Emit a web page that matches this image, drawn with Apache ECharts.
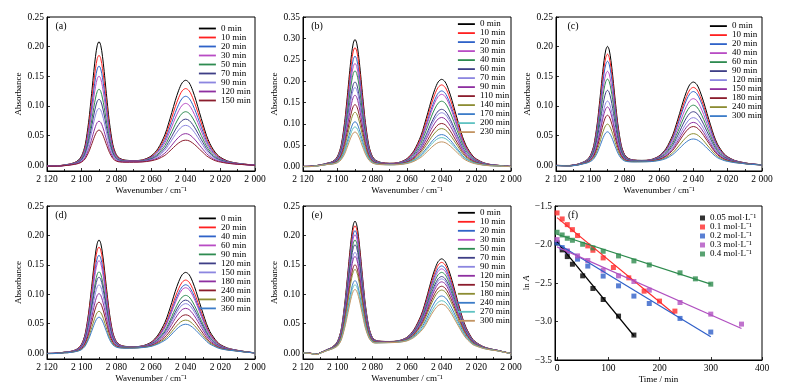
<!DOCTYPE html>
<html><head><meta charset="utf-8">
<script src="https://cdn.jsdelivr.net/npm/echarts@6/dist/echarts.min.js"></script>
<style>html,body{margin:0;padding:0;background:#fff}#c{width:785px;height:390px}</style>
</head><body><div id="c"></div>
<script>
// ---------- DATA ----------
const wavenumbers = [2120,2116,2112,2110,2108,2106,2104,2102,2100,2098,
  2096,2095,2094,2093,2092,2091,2090,2089,2088,2087,2086,2085,2084,
  2082,2080,2078,2075,2070,2065,2060,2056,2052,
  2050,2048,2046,2044,2042,2040,2038,2036,2034,2032,2030,
  2028,2026,2024,2022,2020,
  2016,2012,2008,2004,2000];
// normalized band shapes (2090 band, 2040 band)
const band1 = [0.003,0.004,0.006,0.008,0.01,0.014,0.021,0.035,0.07,0.155,
  0.34,0.47,0.61,0.755,0.88,0.97,1.0,0.97,0.88,0.755,0.61,0.47,0.34,
  0.155,0.07,0.037,0.019,0.009,0.005,0.003,0.002,0.002,
  0.001,0.001,0.001,0.001,0.001,0.001,0.001,0,0,0,0,
  0,0,0,0,0,
  0,0,0,0,0];
const band2 = [0,0,0.001,0.001,0.001,0.001,0.001,0.002,0.002,0.002,
  0.002,0.002,0.002,0.002,0.003,0.003,0.003,0.003,0.003,0.003,0.003,0.003,0.003,
  0.004,0.004,0.005,0.007,0.012,0.026,0.075,0.17,0.34,
  0.47,0.61,0.755,0.88,0.97,1.0,0.97,0.88,0.755,0.61,0.47,
  0.34,0.24,0.17,0.115,0.08,
  0.04,0.022,0.013,0.007,0.004];
// baselines per panel
const baseA = [-0.002,-0.002,-0.002,-0.0015,-0.001,-0.0005,0,0.0005,0.001,0.0015,
  0.002,0.002,0.002,0.002,0.002,0.002,0.002,0.002,0.002,0.002,0.002,0.002,0.002,
  0.002,0.0025,0.003,0.0035,0.004,0.004,0.004,0.0035,0.003,
  0.003,0.003,0.003,0.003,0.003,0.003,0.003,0.003,0.003,0.003,0.003,
  0.0025,0.0025,0.002,0.002,0.002,
  0.0015,0.001,0.0005,0,-0.0005];
const baseB = [0,0,0.001,0.002,0.003,0.004,0.004,0.004,0.004,0.004,
  0.003,0.003,0.003,0.003,0.003,0.003,0.003,0.003,0.003,0.003,0.003,0.003,0.003,
  0.003,0.003,0.003,0.003,0.003,0.003,0.003,0.003,0.003,
  0.003,0.003,0.003,0.003,0.003,0.003,0.003,0.003,0.003,0.003,0.003,
  0.002,0.002,0.002,0.002,0.002,
  0.0015,0.001,0.001,0.0005,0];
const baseC = [-0.001,-0.0015,-0.002,-0.0015,-0.001,0,0.001,0.0015,0.002,0.002,
  0.002,0.002,0.002,0.002,0.002,0.002,0.002,0.002,0.002,0.002,0.002,0.002,0.002,
  0.0025,0.003,0.0035,0.004,0.0045,0.0045,0.0045,0.004,0.004,
  0.004,0.004,0.004,0.004,0.004,0.004,0.004,0.004,0.004,0.004,0.004,
  0.0035,0.003,0.003,0.003,0.003,
  0.0025,0.002,0.001,0.0005,0];
const baseD = [-0.001,-0.001,-0.0005,0,0,0.0005,0.001,0.0015,0.002,0.003,
  0.004,0.004,0.004,0.004,0.004,0.004,0.004,0.004,0.004,0.004,0.004,0.004,0.004,
  0.005,0.006,0.0065,0.007,0.0075,0.008,0.008,0.008,0.007,
  0.006,0.006,0.006,0.006,0.006,0.006,0.006,0.006,0.006,0.006,0.006,
  0.0055,0.005,0.005,0.0045,0.004,
  0.0035,0.003,0.002,0.001,0];
const baseE = [0,-0.001,-0.003,-0.001,0.001,0.003,0.004,0.005,0.005,0.006,
  0.008,0.008,0.008,0.008,0.008,0.008,0.008,0.008,0.008,0.008,0.008,0.008,0.008,
  0.01,0.011,0.013,0.015,0.016,0.016,0.015,0.014,0.012,
  0.01,0.01,0.01,0.01,0.01,0.01,0.01,0.01,0.01,0.01,0.01,
  0.009,0.008,0.007,0.006,0.006,
  0.005,0.004,0.003,0.001,-0.001];

const timesA = [0,10,20,30,50,70,90,120,150];
const peaksA1 = [0.208,0.185,0.167,0.150,0.128,0.111,0.0955,0.074,0.059];
const peaksA2 = [0.143,0.129,0.116,0.104,0.090,0.0775,0.067,0.053,0.042];

const timesB = [0,10,20,30,40,60,70,90,110,140,170,200,230];
const peaksB1 = [0.297,0.278,0.258,0.241,0.224,0.198,0.185,0.167,0.145,0.127,0.105,0.093,0.081];
const peaksB2 = [0.204,0.191,0.177,0.169,0.153,0.134,0.126,0.115,0.101,0.089,0.075,0.068,0.058];

const timesC = [0,10,20,40,60,90,120,150,180,240,300];
const peaksC1 = [0.200,0.187,0.175,0.158,0.145,0.126,0.108,0.098,0.084,0.069,0.056];
const peaksC2 = [0.140,0.131,0.124,0.112,0.101,0.090,0.080,0.072,0.065,0.053,0.044];

const timesD = [0,20,40,60,90,120,150,180,240,300,360];
const peaksD1 = [0.192,0.180,0.166,0.157,0.138,0.129,0.116,0.101,0.0865,0.071,0.061];
const peaksD2 = [0.137,0.124,0.116,0.111,0.098,0.090,0.084,0.076,0.065,0.056,0.049];

const timesE = [0,10,20,30,50,70,90,120,150,180,240,270,300];
const peaksE1 = [0.224,0.216,0.208,0.201,0.192,0.184,0.171,0.164,0.150,0.142,0.123,0.116,0.108];
const peaksE2 = [0.160,0.154,0.148,0.143,0.137,0.130,0.126,0.121,0.1135,0.107,0.097,0.089,0.083];

// panel (f): ln A vs time
const concLabels = ['0.05 mol·L⁻¹','0.1 mol·L⁻¹','0.2 mol·L⁻¹','0.3 mol·L⁻¹','0.4 mol·L⁻¹'];
const kTimes05 = [0,10,20,30,50,70,90,120,150];
const lnA05 = [-1.98,-2.07,-2.157,-2.256,-2.407,-2.571,-2.714,-2.93,-3.176];
const kTimes1 = [0,10,20,30,40,60,70,90,110,140,170,200,230];
const lnA1 = [-1.59,-1.668,-1.742,-1.807,-1.884,-2.018,-2.075,-2.174,-2.299,-2.433,-2.606,-2.735,-2.865];
const kTimes2 = [0,10,20,40,60,90,120,150,180,240,300];
const lnA2 = [-1.98,-2.04,-2.09,-2.19,-2.28,-2.41,-2.537,-2.67,-2.766,-2.96,-3.137];
const kTimes3 = [0,20,40,60,90,120,150,180,240,300,360];
const lnA3 = [-1.936,-2.083,-2.148,-2.208,-2.334,-2.407,-2.48,-2.593,-2.753,-2.904,-3.034];
const kTimes4 = [0,10,20,30,50,70,90,120,150,180,240,270,300];
const lnA4 = [-1.841,-1.876,-1.919,-1.945,-1.997,-2.044,-2.088,-2.148,-2.213,-2.265,-2.368,-2.446,-2.515];
// fitted lines: [t0, lnA0, t1, lnA1]
const fit05 = [0,-1.967,150,-3.185];
const fit1  = [0,-1.651,230,-2.908];
const fit2  = [0,-1.988,300,-3.198];
const fit3  = [0,-2.031,360,-3.09];
const fit4  = [0,-1.867,300,-2.515];

const yTicks25 = [0,0.05,0.10,0.15,0.20,0.25];
const yTicks35 = [0,0.05,0.10,0.15,0.20,0.25,0.30,0.35];
const timeTicks = [0,100,200,300,400];

// ---------- STYLE ----------
const FONT = "'Liberation Serif','Times New Roman',serif";
const palette = ['#000000','#ff2020','#2f62c8','#b84cc4','#2e8b50','#3e3e86','#8c86e0','#8e2fa0','#8b1c2c','#8c8c32','#3c7cc8','#5fc2c2','#c29462'];
const fColors = ['#000000','#ff2a2a','#2f5fc8','#b050c0','#2e8b4e'];

const spectraPanels = [
  {key:'a', times:timesA, p1:peaksA1, p2:peaksA2, base:baseA, ymax:0.25, ticks:yTicks25,
   grid:{left:47,top:17,width:208,height:154}, legend:{left:198,top:24}, label:[61,26], yGap:20.5},
  {key:'b', times:timesB, p1:peaksB1, p2:peaksB2, base:baseB, ymax:0.35, ticks:yTicks35,
   grid:{left:303,top:17,width:208,height:154}, legend:{left:457,top:19.6}, label:[317,26], yGap:23.5},
  {key:'c', times:timesC, p1:peaksC1, p2:peaksC2, base:baseC, ymax:0.25, ticks:yTicks25,
   grid:{left:556,top:17,width:206,height:154}, legend:{left:709,top:21.6}, label:[573,26], yGap:22.5},
  {key:'d', times:timesD, p1:peaksD1, p2:peaksD2, base:baseD, ymax:0.25, ticks:yTicks25,
   grid:{left:47,top:206,width:208,height:153}, legend:{left:198,top:213.9}, label:[61,215], yGap:20.8},
  {key:'e', times:timesE, p1:peaksE1, p2:peaksE2, base:baseE, ymax:0.25, ticks:yTicks25,
   grid:{left:303,top:206,width:208,height:153}, legend:{left:457,top:208.3}, label:[317,215], yGap:23.5}
];

const i2090 = wavenumbers.indexOf(2090), i2040 = wavenumbers.indexOf(2040);
const wnFmt = v => Math.floor(v/1000) + ' ' + String(v%1000).padStart(3,'0');
const txt = {fontFamily:FONT, color:'#000'};

const grids = [], xAxes = [], yAxes = [], series = [], legends = [], graphics = [];

spectraPanels.forEach((p, k) => {
  grids.push(Object.assign({show:true, borderColor:'#000', borderWidth:1, backgroundColor:'transparent'}, p.grid));
  xAxes.push({gridIndex:k, type:'value', min:2000, max:2120, interval:20, inverse:true,
    name:'Wavenumber / cm⁻¹', nameLocation:'middle', nameGap:15.5,
    nameTextStyle:Object.assign({fontSize:9}, txt),
    axisLine:{show:true, onZero:false, lineStyle:{color:'#000', width:1}},
    axisTick:{show:true, inside:true, length:3, lineStyle:{color:'#000', width:0.8}},
    minorTick:{show:true, splitNumber:2, length:2, lineStyle:{color:'#000', width:0.8}},
    axisLabel:Object.assign({fontSize:9.5, margin:3, formatter:wnFmt}, txt),
    splitLine:{show:false}});
  yAxes.push({gridIndex:k, type:'value', min:-0.01, max:p.ymax,
    name:'Absorbance', nameLocation:'middle', nameRotate:90, nameGap:p.yGap,
    nameTextStyle:Object.assign({fontSize:9}, txt),
    axisLine:{show:true, onZero:false, lineStyle:{color:'#000', width:1}},
    axisTick:{show:true, inside:true, length:3, customValues:p.ticks, lineStyle:{color:'#000', width:0.8}},
    axisLabel:Object.assign({fontSize:9.5, margin:3, customValues:p.ticks, formatter:v=>v.toFixed(2)}, txt),
    splitLine:{show:false}});
  const names = [];
  p.times.forEach((t, j) => {
    const name = p.key + '|' + t + ' min';
    names.push(name);
    const a1 = p.p1[j] - p.base[i2090];
    const a2 = p.p2[j] - p.base[i2040];
    const data = wavenumbers.map((w, i) => [w, p.base[i] + a1*band1[i] + a2*band2[i]]);
    series.push({type:'line', name, xAxisIndex:k, yAxisIndex:k, data,
      showSymbol:false, symbol:'none', smooth:0.3,
      lineStyle:{width:1, color:palette[j]}, itemStyle:{color:palette[j]}, silent:true, animation:false});
  });
  legends.push({left:p.legend.left, top:p.legend.top, orient:'vertical', padding:0,
    itemWidth:17, itemHeight:8.8, itemGap:0, selectedMode:false, data:names,
    formatter:n=>n.split('|')[1],
    itemStyle:{opacity:0}, lineStyle:{width:1.8},
    textStyle:Object.assign({fontSize:9, lineHeight:8.8}, txt)});
  graphics.push({type:'text', x:p.label[0], y:p.label[1],
    style:{text:'('+p.key+')', font:'10px ' + FONT, fill:'#000', align:'center', verticalAlign:'middle'}});
});

// panel (f)
const kf = 5;
grids.push({show:true, borderColor:'#000', borderWidth:1, backgroundColor:'transparent', left:555, top:206, width:207, height:154});
xAxes.push({gridIndex:kf, type:'value', min:-4, max:400,
  name:'Time / min', nameLocation:'middle', nameGap:15.5,
  nameTextStyle:Object.assign({fontSize:9}, txt),
  axisLine:{show:true, onZero:false, lineStyle:{color:'#000', width:1}},
  axisTick:{show:true, inside:true, length:3, customValues:timeTicks, lineStyle:{color:'#000', width:0.8}},
  axisLabel:Object.assign({fontSize:9.5, margin:3, customValues:timeTicks}, txt),
  splitLine:{show:false}});
yAxes.push({gridIndex:kf, type:'value', min:-3.5, max:-1.5, interval:0.5,
  name:'{n|ln }{i|A}', nameLocation:'middle', nameRotate:90, nameGap:23.5,
  nameTextStyle:Object.assign({fontSize:9, rich:{n:{fontFamily:FONT, fontSize:9, color:'#000'}, i:{fontFamily:FONT, fontSize:9, color:'#000', fontStyle:'italic'}}}, txt),
  axisLine:{show:true, onZero:false, lineStyle:{color:'#000', width:1}},
  axisTick:{show:true, inside:true, length:3, lineStyle:{color:'#000', width:0.8}},
  axisLabel:Object.assign({fontSize:9.5, margin:3, formatter:v=>(v<0?'−':'')+Math.abs(v).toFixed(1)}, txt),
  splitLine:{show:false}});
const kSets = [[kTimes05,lnA05,fit05],[kTimes1,lnA1,fit1],[kTimes2,lnA2,fit2],[kTimes3,lnA3,fit3],[kTimes4,lnA4,fit4]];
const fNames = [];
kSets.forEach((s, j) => {
  series.push({type:'line', name:'fit'+j, xAxisIndex:kf, yAxisIndex:kf,
    data:[[s[2][0], s[2][1]], [s[2][2], s[2][3]]], showSymbol:false, symbol:'none',
    lineStyle:{width:1.2, color:fColors[j]}, silent:true, animation:false});
});
kSets.forEach((s, j) => {
  const name = 'f|' + concLabels[j];
  fNames.push(name);
  series.push({type:'scatter', name, xAxisIndex:kf, yAxisIndex:kf,
    data:s[0].map((t, i) => [t, s[1][i]]), symbol:'rect', symbolSize:5,
    itemStyle:{color:fColors[j]}, silent:true, animation:false});
});
legends.push({left:700, top:213.5, orient:'vertical', padding:0, icon:'rect',
  itemWidth:5, itemHeight:5, itemGap:0, selectedMode:false, data:fNames,
  formatter:n=>n.split('|')[1],
  textStyle:Object.assign({fontSize:9, lineHeight:8.4}, txt)});
graphics.push({type:'text', x:573, y:215,
  style:{text:'(f)', font:'10px ' + FONT, fill:'#000', align:'center', verticalAlign:'middle'}});

const chart = echarts.init(document.getElementById('c'), null, {renderer:'canvas'});
chart.setOption({animation:false, backgroundColor:'#fff',
  grid:grids, xAxis:xAxes, yAxis:yAxes, series, legend:legends, graphic:graphics});
</script></body></html>
